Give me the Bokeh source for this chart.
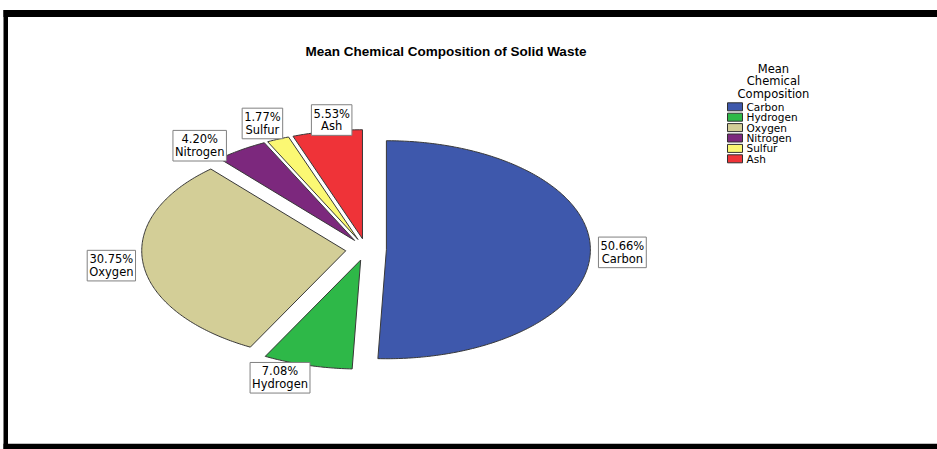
import numpy as np
from bokeh.plotting import figure
from bokeh.models import ColumnDataSource, Label, BoxAnnotation, Range1d
from bokeh.embed import file_html
from bokeh.resources import INLINE
from bokeh.core.properties import value

# Mean chemical composition of solid waste (percent of total)
categories = ["Carbon", "Hydrogen", "Oxygen", "Nitrogen", "Sulfur", "Ash"]
percentages = [50.66, 7.08, 30.75, 4.20, 1.77, 5.53]
colors = ["#3E58AC", "#2EB848", "#D3CE97", "#7C287D", "#FBF873", "#EF3338"]

W, H = 937, 449

# Ranges in page pixels (y grows downward) so layout numbers read naturally
p = figure(width=W, height=H, output_backend="svg", toolbar_location=None,
           x_range=Range1d(0, W), y_range=Range1d(H, 0), min_border=0,
           x_axis_location=None, y_axis_location=None)
p.grid.visible = False
p.outline_line_color = None
p.background_fill_color = "white"
p.border_fill_color = "white"

# Picture frame bands
for l, r, t, b in [(3, W, 9.5, 16.5), (3, 7.5, 9.5, H), (3, W, 443.3, H)]:
    p.add_layout(BoxAnnotation(left=l, right=r, top=t, bottom=b,
                               fill_color="black", fill_alpha=1,
                               line_color=None, level="underlay"))

# Exploded pie, drawn as ellipse-stretched wedges (clockwise from 12 o'clock)
cx, cy = 365.5, 249.0
rx, ry = 204.0, 109.0
explode = 0.10
label_r = 1.257

vals = np.array(percentages, dtype=float)
frac = vals / vals.sum()
ends = np.cumsum(frac) * 2 * np.pi
starts = ends - frac * 2 * np.pi
mids = (starts + ends) / 2

xs, ys = [], []
for a0, a1, m in zip(starts, ends, mids):
    ox, oy = explode * np.sin(m), -explode * np.cos(m)
    t = np.linspace(a0, a1, max(int((a1 - a0) * 80), 8))
    xs.append(list(cx + rx * np.concatenate([[ox], ox + np.sin(t)])))
    ys.append(list(cy + ry * np.concatenate([[oy], oy - np.cos(t)])))

pie_src = ColumnDataSource(dict(xs=xs, ys=ys, color=colors, name=categories))
p.patches("xs", "ys", source=pie_src, fill_color="color",
          line_color="#383838", line_width=1)

# Value labels in boxes just outside each slice
nudges = [(0, 0), (-19, -4), (0, 0), (-23.5, 10), (-3, 0), (10, 5.5)]
for name, pct, m, (dx, dy) in zip(categories, percentages, mids, nudges):
    lx = cx + rx * label_r * np.sin(m) + dx
    ly = cy - ry * label_r * np.cos(m) + dy
    p.add_layout(Label(x=lx, y=ly, text=f"{pct:.2f}%\n{name}",
                       text_align="center", text_baseline="middle",
                       text_font="DejaVu Sans", text_font_size="11.5px",
                       text_line_height=0.9, text_color="black",
                       background_fill_color="white", background_fill_alpha=1,
                       border_line_color="#808080", border_line_width=1,
                       padding=2))

# Chart title
p.add_layout(Label(x=445.5, y=51, text="Mean Chemical Composition of Solid Waste",
                   text_align="center", text_baseline="alphabetic",
                   text_font="Liberation Sans", text_font_style="bold",
                   text_font_size="13.5px", text_color="black"))

# Legend
p.add_layout(Label(x=773, y=80.7, text="Mean\nChemical\nComposition",
                   text_align="center", text_baseline="middle",
                   text_font="DejaVu Sans", text_font_size="11.5px",
                   text_line_height=0.9, text_color="black"))

row = 10.4
leg_y = [106.3 + i * row for i in range(len(categories))]
leg_src = ColumnDataSource(dict(x=[734.5] * len(categories), tx=[746] * len(categories),
                                y=leg_y, color=colors, name=categories))
p.rect("x", "y", width=15, height=8, source=leg_src, fill_color="color",
       line_color="#303030", line_width=1)
p.text("tx", "y", text="name", source=leg_src, text_baseline="middle",
       text_font=value("DejaVu Sans"), text_font_size="10.5px", text_color="black")

open("out.html", "w").write(file_html(p, INLINE))
